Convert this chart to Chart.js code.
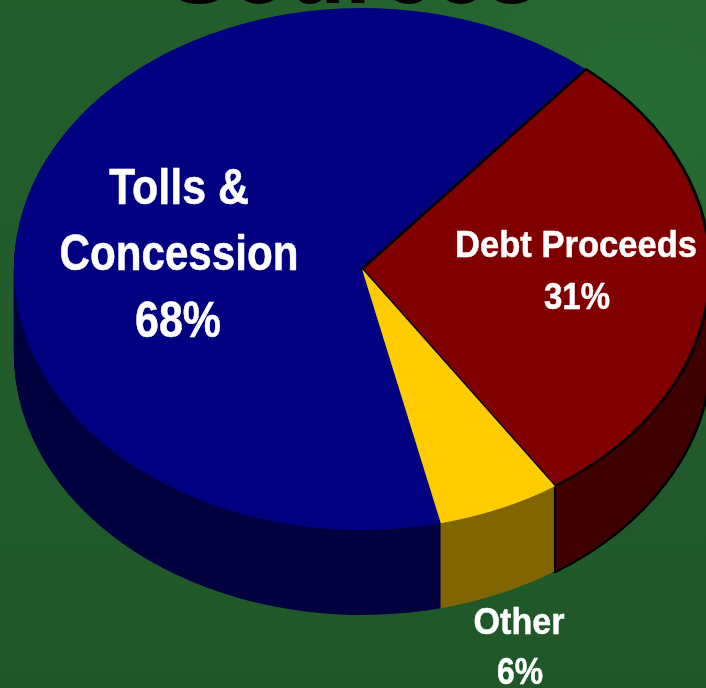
<!DOCTYPE html>
<html>
<head>
<meta charset="utf-8">
<style>
  html, body { margin: 0; padding: 0; width: 706px; height: 688px; overflow: hidden;
    background:
      radial-gradient(ellipse 420px 340px at 640px 110px, rgba(44,122,60,0.5), rgba(44,122,60,0) 100%),
      linear-gradient(180deg, #225d2c 0%, #215b2b 60%, #1f5729 100%); }
  canvas { display: block; }
</style>
<script src="https://cdn.jsdelivr.net/npm/chart.js@4"></script>
</head>
<body>
<canvas id="pie" width="706" height="688"></canvas>
<script>
// Funding sources, in percent
const categories = ['Tolls & Concession', 'Debt Proceeds', 'Other'];
const shares = [68, 31, 6];
const topColors = ['#000080', '#800000', '#FFCC00'];
const wallColors = ['#000040', '#400000', '#806600'];
const heading = 'Sources';

// Tilted-disc geometry, in canvas pixels
const disc = { cx: 362, cy: 269, rx: 348, ry: 261, depth: 85 };
const firstSliceAngle = 166.9;

// Where each slice's caption sits: one line per entry
const captionLayout = [
  { font: 50, lines: [{ text: 'Tolls &', x: 179, y: 204, w: 140 },
                      { text: 'Concession', x: 179, y: 270, w: 239 },
                      { text: '%', x: 178, y: 337, w: 86 }] },
  { font: 37, lines: [{ text: 'Debt Proceeds', x: 576, y: 257, w: 242 },
                      { text: '%', x: 577, y: 309, w: 66 }] },
  { font: 37, lines: [{ text: 'Other', x: 519, y: 634, w: 91 },
                      { text: '%', x: 520, y: 684, w: 46 }] }
];

function applyDiscTransform(ctx, arc, drop) {
  const r = arc.outerRadius;
  ctx.translate(disc.cx, disc.cy + drop);
  ctx.scale(disc.rx / r, disc.ry / r);
  ctx.translate(-arc.x, -arc.y);
}

function drawArcStyled(ctx, arc, style) {
  const saved = arc.options;
  arc.options = Object.assign({}, saved, style);
  arc.draw(ctx);
  arc.options = saved;
}

const tiltedPie = {
  id: 'tiltedPie',
  beforeDraw(chart) {
    const ctx = chart.ctx;
    ctx.save();
    ctx.fillStyle = '#000';
    ctx.font = 'bold 94px "Liberation Sans", Arial, sans-serif';
    ctx.textAlign = 'center';
    ctx.textBaseline = 'alphabetic';
    ctx.fillText(heading, 353, 3);
    ctx.restore();
  },
  // Side wall: stacked copies of every slice in its darker shade
  beforeDatasetsDraw(chart) {
    const ctx = chart.ctx;
    const arcs = chart.getDatasetMeta(0).data;

    ctx.save();
    applyDiscTransform(ctx, arcs[1], disc.depth);
    drawArcStyled(ctx, arcs[1], { backgroundColor: '#000', borderColor: '#000', borderWidth: 5 });
    ctx.restore();

    for (let d = disc.depth; d > 0; d--) {
      arcs.forEach((arc, i) => {
        ctx.save();
        applyDiscTransform(ctx, arc, d);
        drawArcStyled(ctx, arc, { backgroundColor: wallColors[i], borderWidth: 0 });
        ctx.restore();
      });
    }

    // Vertical seam where the debt wall meets its neighbour
    const a = arcs[1];
    const sx = disc.cx + Math.cos(a.endAngle) * disc.rx;
    const sy = disc.cy + Math.sin(a.endAngle) * disc.ry;
    ctx.save();
    ctx.strokeStyle = '#000';
    ctx.lineWidth = 2;
    ctx.beginPath();
    ctx.moveTo(sx, sy);
    ctx.lineTo(sx, sy + disc.depth);
    ctx.stroke();
    ctx.restore();

    // The library's own slice drawing continues in the flattened space
    const first = arcs[0];
    ctx.save();
    applyDiscTransform(ctx, first, 0);
  },
  afterDatasetsDraw(chart) {
    const ctx = chart.ctx;
    ctx.restore();

    ctx.save();
    ctx.fillStyle = '#fff';
    ctx.strokeStyle = '#fff';
    ctx.lineWidth = 0.5;
    ctx.textAlign = 'center';
    ctx.textBaseline = 'alphabetic';
    captionLayout.forEach((block, i) => {
      ctx.font = 'bold ' + block.font + 'px "Liberation Sans", Arial, sans-serif';
      block.lines.forEach(line => {
        const text = line.text === '%' ? shares[i] + '%' : line.text;
        ctx.fillText(text, line.x, line.y, line.w);
        ctx.strokeText(text, line.x, line.y, line.w);
      });
    });
    ctx.restore();
  }
};

new Chart(document.getElementById('pie'), {
  type: 'pie',
  data: {
    labels: categories,
    datasets: [{
      data: shares,
      backgroundColor: topColors,
      borderColor: ['#000080', '#000', '#FFCC00'],
      borderWidth: [0, 3, 0],
      borderJoinStyle: 'round',
      clip: false
    }]
  },
  options: {
    responsive: false,
    animation: false,
    rotation: firstSliceAngle,
    layout: { padding: 0 },
    events: [],
    plugins: { legend: { display: false }, tooltip: { enabled: false }, title: { display: false } }
  },
  plugins: [tiltedPie]
});
</script>
</body>
</html>
